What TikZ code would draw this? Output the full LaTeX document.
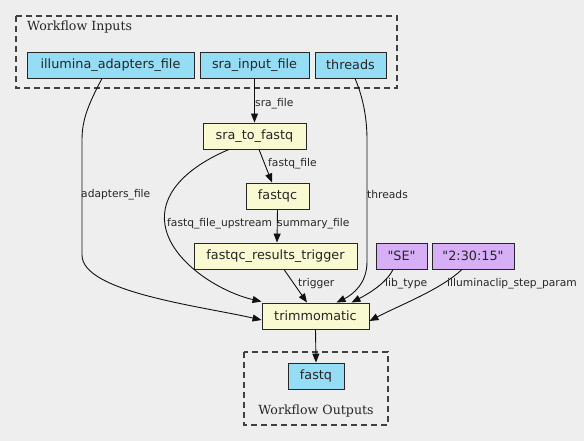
\documentclass[tikz,border=0pt]{standalone}
\usepackage{fontspec}
\setmainfont{DejaVu Sans}[Ligatures=TeXOff]
\newfontfamily\clfont{DejaVu Serif}
\usetikzlibrary{arrows.meta,calc}
\definecolor{bg}{HTML}{EEEEEE}
\definecolor{inblue}{HTML}{94DDF5}
\definecolor{stepyel}{HTML}{FAFAD2}
\definecolor{constpur}{HTML}{D7AFF7}
\definecolor{edgegray}{HTML}{111111}
\tikzset{
  box/.style={draw=black!85, line width=0.9pt, inner sep=0pt, minimum height=26pt,
    font=\fontsize{12.8}{14}\selectfont, text=black!85},
  inp/.style={box, fill=inblue},
  stp/.style={box, fill=stepyel},
  cst/.style={box, fill=constpur},
  cluster/.style={draw=black!75, line width=1.1pt, dash pattern=on 6pt off 4pt},
  cltext/.style={font=\clfont\fontsize{12.6}{14}\selectfont, text=black!85, inner sep=0pt},
  conn/.style={draw=edgegray, line width=0.9pt, -{Triangle[length=9pt,width=7pt]}},
  elab/.style={font=\fontsize{10.7}{12}\selectfont, text=black!85, inner sep=0pt, anchor=west}
}
\begin{document}
\begin{tikzpicture}[x=1pt,y=-1pt]
\fill[bg] (0,0) rectangle (584,441);
\useasboundingbox (0,0) rectangle (584,441);
% clusters
\draw[cluster] (16,16) rectangle (397,88);
\node[cltext, anchor=west] (inlab) at (27,27) {Workflow Inputs};
\draw[cluster] (244,352) rectangle (388,425);
\node[cltext] (outlab) at (316,411) {Workflow Outputs};
% nodes
\node[inp, minimum width=167pt] (ill) at (110.5,65) {illumina\_adapters\_file};
\node[inp, minimum width=109pt] (sra) at (254.5,65) {sra\_input\_file};
\node[inp, minimum width=71pt] (thr) at (350.5,65) {threads};
\node[stp, minimum width=103pt] (s2f) at (254.5,136) {sra\_to\_fastq};
\node[stp, minimum width=63pt] (fqc) at (277.5,196) {fastqc};
\node[stp, minimum width=163pt] (frt) at (275.5,256) {fastqc\_results\_trigger};
\node[cst, minimum width=51pt] (se) at (401.5,256) {"SE"};
\node[cst, minimum width=82pt] (clip) at (473,256) {"2:30:15"};
\node[stp, minimum width=107pt] (trim) at (315.5,316) {trimmomatic};
\node[inp, minimum width=56pt] (fq) at (316,376) {fastq};
% edges
\draw[conn] (sra.south) -- (s2f.north);
\node[elab] (l1) at (255,104) {sra\_file};
\draw[conn] ([xshift=4.5pt]s2f.south) -- ([xshift=-5.5pt]fqc.north);
\node[elab] (l2) at (268,164) {fastq\_file};
\draw[conn] (fqc.south) -- ([xshift=1.5pt]frt.north);
\node[elab] (l3) at (277,224) {summary\_file};
\draw[conn] ([xshift=8.5pt]frt.south) -- ([xshift=-8.5pt]trim.north);
\node[elab] (l4) at (298,284) {trigger};
\draw[conn] ([xshift=-8.5pt]ill.south) .. controls (88,105) and (82,120) .. (82,140)
  -- (82,255) .. controls (82,292) and (200,306) .. ([yshift=-4pt]trim.west);
\node[elab] (l5) at (81,195) {adapters\_file};
\draw[conn] ([xshift=-25.5pt]s2f.south) .. controls (185,168) and (160,195) .. (165,225)
  .. controls (171,262) and (220,292) .. ([xshift=-54pt,yshift=1pt]trim.north);
\node[elab] (l6) at (167,224) {fastq\_file\_upstream};
\draw[conn] ([xshift=4.5pt]thr.south) .. controls (362,95) and (367,115) .. (367,140)
  -- (367,262) .. controls (367,284) and (352,295) .. ([xshift=21pt]trim.north);
\node[elab] (l7) at (367,195) {threads};
\draw[conn] ([xshift=-8.5pt]se.south) .. controls (386,284) and (366,295) .. ([xshift=36pt]trim.north);
\node[elab] (l8) at (385,284) {lib\_type};
\draw[conn] ([xshift=-11pt]clip.south) .. controls (440,290) and (400,305) .. ([yshift=-5pt]trim.east);
\node[elab] (l9) at (447,284) {illuminaclip\_step\_param};
\draw[conn] (trim.south) -- (fq.north);
\end{tikzpicture}
\end{document}
